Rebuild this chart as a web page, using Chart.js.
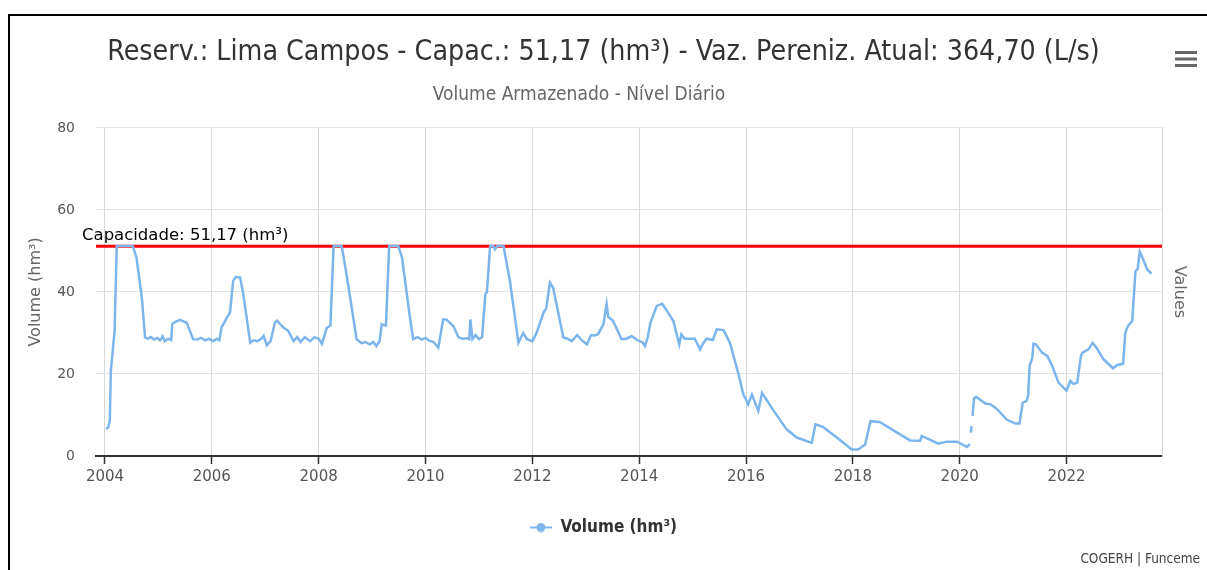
<!DOCTYPE html>
<html>
<head>
<meta charset="utf-8">
<script src="https://cdn.jsdelivr.net/npm/chart.js@4.4.1/dist/chart.umd.min.js"></script>
<style>
    html, body { margin: 0; padding: 0; background: #fff; }
    #frame { position: absolute; left: 8px; top: 14px; width: 1199px; height: 556px; border-top: 2px solid #000; border-left: 2px solid #000; }
    #wrap { position: absolute; left: 0; top: 0; width: 1207px; height: 570px; }
</style>
</head>
<body>
<div id="frame"></div>
<div id="wrap"><canvas id="chart"></canvas></div>
<script>
// volume (hm3), x = decimal year
const years = [
    2004.02, 2004.06, 2004.09, 2004.11, 2004.14, 2004.18, 2004.22, 2004.35, 2004.52, 2004.59,
    2004.69, 2004.75, 2004.80, 2004.86, 2004.92, 2004.98, 2005.03, 2005.08, 2005.12, 2005.18,
    2005.24, 2005.26, 2005.33, 2005.40, 2005.53, 2005.65, 2005.72, 2005.80, 2005.88, 2005.95,
    2006.02, 2006.10, 2006.14, 2006.18, 2006.28, 2006.34, 2006.40, 2006.45, 2006.53, 2006.59,
    2006.66, 2006.72, 2006.78, 2006.85, 2006.92, 2006.97, 2007.03, 2007.10, 2007.18, 2007.22,
    2007.34, 2007.43, 2007.53, 2007.60, 2007.66, 2007.74, 2007.84, 2007.92, 2008.00, 2008.06,
    2008.15, 2008.22, 2008.28, 2008.43, 2008.49, 2008.59, 2008.71, 2008.80, 2008.88, 2008.96,
    2009.02, 2009.08, 2009.14, 2009.18, 2009.26, 2009.32, 2009.49, 2009.56, 2009.71, 2009.77,
    2009.85, 2009.93, 2010.00, 2010.06, 2010.15, 2010.24, 2010.33, 2010.39, 2010.52, 2010.62,
    2010.70, 2010.78, 2010.82, 2010.84, 2010.88, 2010.94, 2011.00, 2011.06, 2011.12, 2011.15,
    2011.21, 2011.27, 2011.30, 2011.34, 2011.46, 2011.58, 2011.74, 2011.83, 2011.90, 2012.00,
    2012.07, 2012.21, 2012.26, 2012.33, 2012.39, 2012.49, 2012.58, 2012.66, 2012.74, 2012.84,
    2012.92, 2013.02, 2013.10, 2013.16, 2013.23, 2013.33, 2013.39, 2013.42, 2013.51, 2013.67,
    2013.76, 2013.86, 2014.00, 2014.06, 2014.11, 2014.16, 2014.21, 2014.33, 2014.43, 2014.50,
    2014.64, 2014.75, 2014.79, 2014.85, 2015.04, 2015.14, 2015.20, 2015.26, 2015.38, 2015.45,
    2015.58, 2015.70, 2015.86, 2015.95, 2016.00, 2016.04, 2016.11, 2016.23, 2016.30, 2016.52,
    2016.76, 2016.95, 2017.23, 2017.30, 2017.44, 2017.70, 2017.98, 2018.10, 2018.23, 2018.33,
    2018.50, 2018.83, 2019.07, 2019.26, 2019.29, 2019.60, 2019.76, 2019.95, 2020.05, 2020.14,
    2020.19, 2020.20, 2020.21, 2020.22, 2020.23, 2020.24, 2020.27, 2020.31, 2020.48, 2020.58,
    2020.70, 2020.88, 2021.04, 2021.12, 2021.18, 2021.25, 2021.28, 2021.31, 2021.36, 2021.38,
    2021.43, 2021.54, 2021.64, 2021.73, 2021.85, 2022.00, 2022.07, 2022.13, 2022.20, 2022.27,
    2022.30, 2022.41, 2022.49, 2022.56, 2022.69, 2022.87, 2022.95, 2023.06, 2023.10, 2023.15,
    2023.23, 2023.29, 2023.33, 2023.37, 2023.42, 2023.51, 2023.59
];
const volume = [
    6.6, 7.0, 8.5, 20.7, 24.9, 30.5, 51.2, 51.2, 51.2, 48.4,
    38.6, 28.9, 28.6, 29.0, 28.4, 28.8, 28.2, 29.2, 28.0, 28.6,
    28.3, 32.2, 32.8, 33.2, 32.5, 28.5, 28.4, 28.8, 28.2, 28.6,
    28.0, 28.6, 28.2, 31.3, 33.7, 35.0, 42.7, 43.7, 43.5, 39.4,
    33.0, 27.6, 28.2, 28.0, 28.5, 29.3, 27.0, 28.0, 32.5, 33.0,
    31.3, 30.5, 28.0, 29.0, 27.8, 29.0, 28.0, 29.0, 28.6, 27.3,
    31.2, 31.8, 51.2, 51.2, 46.8, 38.6, 28.5, 27.5, 27.8, 27.2,
    27.8, 26.8, 28.0, 32.1, 31.8, 51.2, 51.2, 48.4, 33.7, 28.5,
    29.0, 28.4, 28.8, 28.2, 27.8, 26.4, 33.3, 33.3, 31.7, 28.9,
    28.6, 28.7, 28.5, 33.3, 28.5, 29.5, 28.5, 29.0, 39.4, 40.0,
    51.2, 51.2, 50.4, 51.2, 51.2, 42.7, 27.6, 30.0, 28.5, 28.0,
    29.7, 35.0, 36.0, 42.3, 41.0, 34.6, 28.9, 28.6, 28.0, 29.5,
    28.3, 27.2, 29.5, 29.4, 29.7, 32.1, 37.1, 34.0, 33.0, 28.5,
    28.6, 29.2, 28.0, 27.8, 26.8, 29.0, 32.5, 36.6, 37.1, 35.8,
    32.9, 27.2, 29.7, 28.6, 28.6, 26.0, 27.5, 28.6, 28.3, 30.9,
    30.7, 27.6, 19.9, 15.0, 13.8, 12.6, 15.0, 11.0, 15.4, 11.0,
    6.5, 4.5, 3.2, 7.7, 7.1, 4.5, 1.6, 1.6, 2.8, 8.5,
    8.3, 5.7, 3.8, 3.7, 4.9, 3.0, 3.5, 3.5, 2.8, 2.2,
    2.9, null, 5.7, 7.3, null, 9.8, 14.2, 14.4, 12.8, 12.6,
    11.4, 8.9, 7.9, 7.9, 13.0, 13.4, 14.6, 22.0, 24.0, 27.4,
    27.2, 25.2, 24.4, 22.0, 17.9, 15.9, 18.3, 17.6, 17.9, 24.4,
    25.2, 26.0, 27.6, 26.4, 23.6, 21.4, 22.2, 22.5, 30.1, 31.7,
    32.9, 45.1, 45.5, 49.8, 48.4, 45.5, 44.5
];
const capacity = 51.17;
const xTicks = [2004, 2006, 2008, 2010, 2012, 2014, 2016, 2018, 2020, 2022];
const yTicks = [0, 20, 40, 60, 80];
const xRange = [2003.832, 2023.787];

const lineColor = '#7cb5ec';
const narrow = "'Liberation Sans Narrow', 'DejaVu Sans Condensed', 'Arial Narrow', sans-serif";
const dejavu = "'DejaVu Sans', Verdana, sans-serif";

// legend symbol: short line with a dot, like the original
function legendSymbol() {
    const c = document.createElement('canvas');
    c.width = 22;
    c.height = 10;
    const g = c.getContext('2d');
    g.strokeStyle = lineColor;
    g.lineWidth = 2;
    g.beginPath();
    g.moveTo(0, 5);
    g.lineTo(22, 5);
    g.stroke();
    g.fillStyle = lineColor;
    g.beginPath();
    g.arc(11, 5, 4.5, 0, Math.PI * 2);
    g.fill();
    return c;
}

const extras = {
    id: 'extras',
    afterDatasetsDraw(chart) {
        const {ctx, chartArea, scales} = chart;
        const y = scales.y.getPixelForValue(capacity);
        ctx.save();
        ctx.fillStyle = '#000';
        ctx.font = '16.5px ' + dejavu;
        ctx.textAlign = 'left';
        ctx.textBaseline = 'alphabetic';
        ctx.fillText('Capacidade: 51,17 (hm³)', chartArea.left - 14, y - 6);
        ctx.restore();
    },
    afterDraw(chart) {
        const {ctx, width, height} = chart;
        ctx.save();
        // subtitle (sits a bit left of centre in the original)
        ctx.fillStyle = '#666';
        ctx.font = '19px ' + narrow;
        ctx.textAlign = 'center';
        ctx.textBaseline = 'middle';
        ctx.fillText('Volume Armazenado - Nível Diário', 579, 95);
        // credits
        ctx.fillStyle = '#444';
        ctx.font = '13.5px ' + narrow;
        ctx.textAlign = 'right';
        ctx.textBaseline = 'alphabetic';
        ctx.fillText('COGERH | Funceme', width - 7, height - 7);
        // export menu icon
        ctx.fillStyle = '#666';
        for (let i = 0; i < 3; i++) {
            ctx.fillRect(width - 32, 51 + i * 6.5, 22, 3);
        }
        ctx.restore();
    }
};

const points = years.map((x, i) => ({x: x, y: volume[i]}));

new Chart(document.getElementById('chart'), {
    type: 'line',
    data: {
        datasets: [
            {
                label: 'Volume (hm³)',
                data: points,
                borderColor: lineColor,
                backgroundColor: lineColor,
                borderWidth: 2.5,
                pointRadius: 0,
                pointHoverRadius: 0,
                pointStyle: legendSymbol(),
                tension: 0,
                spanGaps: false
            },
            {
                label: 'Capacidade',
                data: [{x: xRange[0], y: capacity}, {x: xRange[1], y: capacity}],
                borderColor: '#ff0000',
                borderWidth: 3,
                pointRadius: 0
            }
        ]
    },
    options: {
        responsive: true,
        maintainAspectRatio: false,
        animation: false,
        devicePixelRatio: 1,
        layout: { padding: { top: 0, right: 0, bottom: 24, left: 0 } },
        plugins: {
            title: {
                display: true,
                text: 'Reserv.: Lima Campos - Capac.: 51,17 (hm³) - Vaz. Pereniz. Atual: 364,70 (L/s)',
                color: '#333',
                font: { family: narrow, size: 28.3, weight: 'normal' },
                padding: { top: 36, bottom: 58 }
            },
            subtitle: { display: false },
            legend: {
                position: 'bottom',
                labels: {
                    usePointStyle: true,
                    pointStyleWidth: 22,
                    color: '#333',
                    font: { family: narrow, size: 17, weight: 'bold' },
                    padding: 10,
                    filter: item => item.datasetIndex === 0
                }
            },
            tooltip: { enabled: false }
        },
        scales: {
            x: {
                type: 'linear',
                min: xRange[0],
                max: xRange[1],
                afterBuildTicks: s => { s.ticks = xTicks.map(v => ({value: v})); },
                afterFit: s => { s.height = 53; },
                ticks: {
                    color: '#555',
                    font: { family: dejavu, size: 15 },
                    padding: 4,
                    maxRotation: 0,
                    callback: v => String(v)
                },
                grid: { color: '#d8d8d8', tickColor: '#333', tickLength: 8, tickWidth: 1.5 },
                border: { color: '#333', width: 2 }
            },
            y: {
                min: 0,
                max: 80,
                afterBuildTicks: s => { s.ticks = yTicks.map(v => ({value: v})); },
                afterFit: s => { s.width = 96; },
                ticks: { color: '#555', font: { family: dejavu, size: 14 }, padding: 21 },
                grid: { color: '#e3e3e3', drawTicks: false },
                border: { display: false },
                title: {
                    display: true,
                    text: 'Volume (hm³)',
                    color: '#666',
                    font: { family: dejavu, size: 16 },
                    padding: { top: 26, bottom: 0 }
                }
            },
            y1: {
                position: 'right',
                min: 0,
                max: 80,
                afterFit: s => { s.width = 45; },
                ticks: { display: false },
                grid: { drawOnChartArea: false, drawTicks: false },
                border: { color: '#d8d8d8', width: 1 },
                title: {
                    display: true,
                    text: 'Values',
                    color: '#666',
                    font: { family: dejavu, size: 16 },
                    padding: { top: 18, bottom: 0 }
                }
            }
        }
    },
    plugins: [extras]
});
</script>
</body>
</html>
